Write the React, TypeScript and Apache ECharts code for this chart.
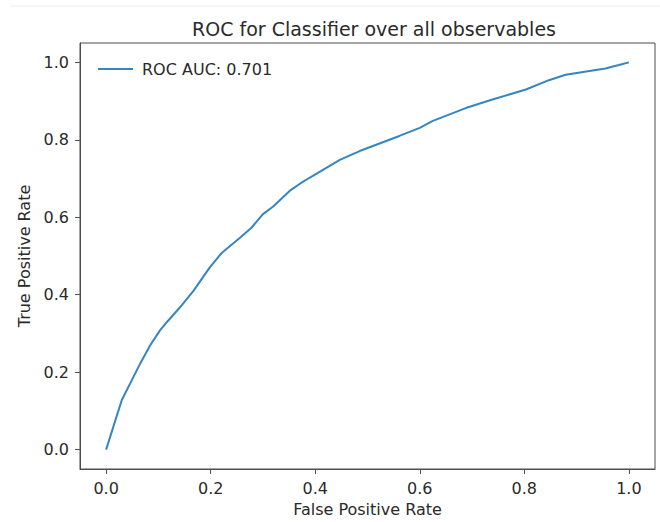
import React, { useEffect, useRef } from "react";
import * as echarts from "echarts";

const fpr = [0, 0.014, 0.03, 0.046, 0.065, 0.084, 0.103, 0.116, 0.141, 0.167, 0.198, 0.221, 0.256, 0.278, 0.3, 0.319, 0.351, 0.37, 0.389, 0.447, 0.485, 0.561, 0.6, 0.625, 0.688, 0.739, 0.803, 0.847, 0.879, 0.955, 0.981, 1.0];
const tpr = [0, 0.06, 0.128, 0.171, 0.222, 0.269, 0.308, 0.329, 0.367, 0.41, 0.47, 0.508, 0.547, 0.573, 0.608, 0.627, 0.668, 0.686, 0.702, 0.748, 0.771, 0.81, 0.831, 0.849, 0.882, 0.904, 0.93, 0.954, 0.968, 0.984, 0.993, 1.0];
const tickValues = [0, 0.2, 0.4, 0.6, 0.8, 1.0];
const seriesName = "ROC AUC: 0.701";
const titleText = "ROC for Classifier over all observables";

const FONT = "DejaVu Sans";
const TXT = "#2a2a2a";
const AX = "#4d4d4d";
const LINE = "#3585c2";

export default function App() {
  const ref = useRef<HTMLDivElement>(null);
  useEffect(() => {
    const chart = echarts.init(ref.current!, null, { renderer: "svg" });
    const axisCommon = {
      type: "value" as const,
      min: -0.05,
      max: 1.05,
      splitLine: { show: false },
      axisLine: { show: true, onZero: false, lineStyle: { color: AX, width: 1 } },
      axisTick: { show: true, customValues: tickValues, length: 5, lineStyle: { color: AX } },
      axisLabel: {
        customValues: tickValues,
        formatter: (v: number) => v.toFixed(1),
        color: TXT,
        fontFamily: FONT,
        fontSize: 16,
      },
      nameLocation: "middle" as const,
      nameTextStyle: { color: TXT, fontFamily: FONT, fontSize: 16 },
    };
    chart.setOption({
      animation: false,
      backgroundColor: "#ffffff",
      title: {
        text: titleText,
        left: 369,
        textAlign: "center",
        top: 14,
        textStyle: { color: TXT, fontFamily: FONT, fontSize: 19, fontWeight: "normal" },
      },
      legend: {
        left: 93,
        top: 56,
        icon: "rect",
        itemWidth: 35,
        itemHeight: 2,
        itemGap: 10,
        textStyle: { color: TXT, fontFamily: FONT, fontSize: 16, padding: [0, 0, 0, 4] },
        data: [{ name: seriesName }],
      },
      grid: { left: 80, right: 5, top: 43, bottom: 49, containLabel: false, show: true, borderColor: AX, borderWidth: 1 },
      xAxis: { ...axisCommon, name: "False Positive Rate", nameGap: 32, axisLabel: { ...axisCommon.axisLabel, margin: 11 } },
      yAxis: { ...axisCommon, name: "True Positive Rate", nameGap: 45, axisLabel: { ...axisCommon.axisLabel, margin: 11 } },
      series: [
        {
          name: seriesName,
          type: "line",
          data: fpr.map((x, i) => [x, tpr[i]]),
          symbol: "none",
          showSymbol: false,
          lineStyle: { color: LINE, width: 2 },
          itemStyle: { color: LINE },
        },
      ],
      graphic: [
        { type: "line", shape: { x1: 10, y1: 6, x2: 660, y2: 6 }, style: { stroke: "#ececec", lineWidth: 1 } },
      ],
    });
    return () => chart.dispose();
  }, []);
  return <div ref={ref} style={{ position: "fixed", left: 0, top: 0, width: 660, height: 522 }} />;
}
